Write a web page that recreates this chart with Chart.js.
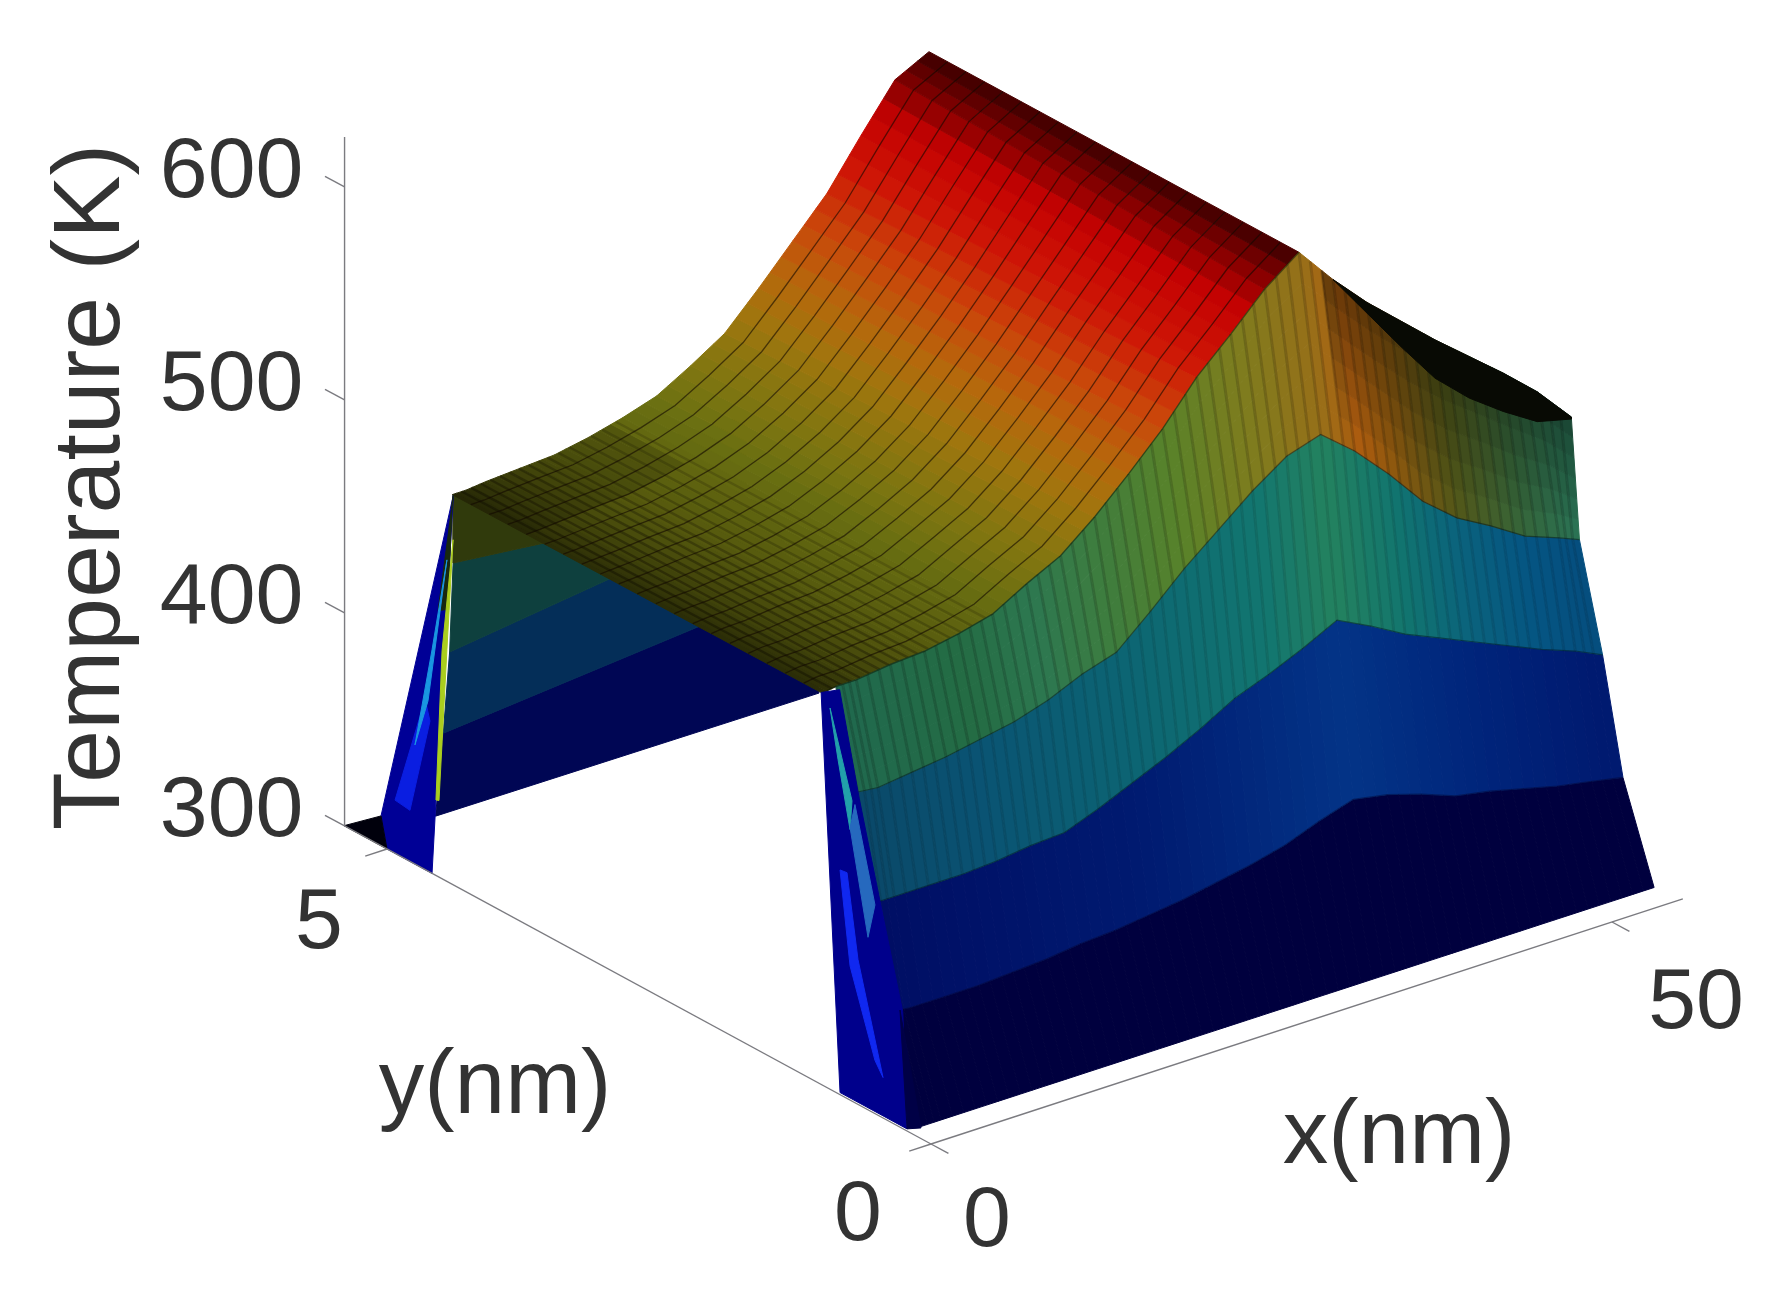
<!DOCTYPE html>
<html><head><meta charset="utf-8">
<style>html,body{margin:0;padding:0;background:#fff}canvas{display:block}</style>
<script src="https://cdn.jsdelivr.net/npm/chart.js@4/dist/chart.umd.js"></script>
</head><body><canvas id="c" width="1784" height="1299"></canvas>
<script>
// ---------- data ----------
const xGrid   = [1,2.5,5,7.5,10,12.5,15,17.5,20,22.5,25,27.5,30,32.5,35,37.5,40,42.5,45,47.5,50,52.5,55];
const baseT   = 300;
const yBase = 0.22, yNavy = 0.5, yBlue = 0.65, yTeal = 0.8, yEdge = 1, yFar = 4.4;
const xEndBase = 54.85, xEndNavy = 54.8, xEndBlue = 54.5, xEndTeal = 54, xEndEdge = 55;
const navyT = [346,345,345,345,346,347,349,350,352,354,357,360,364,370,375,372,367,361,358,354,350,347,344];
const blueT = [393,393,393,393,394,396,397,403,410,417,425,434,440,447,455,447,438,431,424,417,410,404,398];
const tealT = [441,440,442,444,447,450,455,462,467,481,496,509,522,533,538,525,509,491,478,469,459,453,449];
const edgeT = [485,485,487,488,491,495,504,512,525,540,556,575,590,606,618,600,584,570,556,543,530,516,499];
const rimX  = [37.5,40,42.5,45,47.5,50,52.5,55];
const rimT  = [600,579,558,538,523.5,512,502,498];
const plateX     = [0,1,2.5,5,7.5,10,12.5,15,17.5,20,22.5,25,27.5,30,32.5,35];
const plateNearT = [484,485,485,487,488,491,495,504,512,525,540,556,575,590,606,618];
const plateFarT  = [483,483,484,485,486,489,493,498,507,517,533,550,567,589,610,618];
// inner side of the far wall: [x, y, T]
const farBase = [[5,5.18,300],[33,5.16,300]];
const far344  = [[4.45,5.04,344],[33,5.38,344]];
const far394  = [[2.6,4.75,394],[30,5.2,394]];
const far445  = [[1.1,4.53,445],[20,4.2,445]];
const farTop  = [[0,4.39,483],[20,4.2,484]];
// steep end pieces at x = 0: [y, T]
const fanFront  = [[1.01,484],[0.836,301],[0.22,301],[0.26,355],[0.46,399],[0.66,444],[0.84,490]];
const fanFoot   = [[0.285,355],[0.22,301],[0.092,305]];
const fanCyan   = [[0.928,479],[0.726,441],[0.744,427],[0.855,457]];
const fanPale   = [[0.744,428],[0.579,381],[0.515,398],[0.699,440]];
const fanBright = [[0.772,406],[0.671,368],[0.441,319],[0.515,325],[0.744,363],[0.836,405.5]];
const fanFar    = [[4.39,483],[5.055,314],[5,300],[4.586,300],[4.54,345]];
const fanFarDark= [[5.395,300],[5.055,314],[5,300]];
const farSliver = [[4.39,483],[4.53,425],[4.44,428],[4.4,480]];
const farCyan   = [[4.449,451],[4.623,380],[4.743,356],[4.586,405]];
const farBright = [[4.926,325],[4.65,380],[4.605,371],[4.789,324]];
const farYellow = [[4.393,462],[4.449,409],[4.522,336],[4.55,335.5],[4.494,407]];
// axes
const zTicks = [300,400,500,600];
const zMax = 623.5, yAxisEnd = 5.39, xAxisEnd = 55.2;
const xTicks = [0,50], yTicks = [0,5];

// ---------- view ----------
const P = (x,y,T)=>({x:931+13.62*x-108.8*y, y:1144-4.44*x-59*y-2.13*(T-300)});
const mix=(a,b,t)=>Array.isArray(a)?a.map((v,i)=>v+(b[i]-v)*t):a+(b-a)*t;
const ramp=(stops,v)=>{ if(v<=stops[0][0])return stops[0][1];
  for(let i=1;i<stops.length;i++) if(v<=stops[i][0]) return mix(stops[i-1][1],stops[i][1],(v-stops[i-1][0])/(stops[i][0]-stops[i-1][0]));
  return stops[stops.length-1][1]; };
const css=(c,k=1)=>`rgb(${Math.round(c[0]*k)},${Math.round(c[1]*k)},${Math.round(c[2]*k)})`;
const plateColors=[[484,[100,104,16]],[497,[108,114,18]],[510,[132,118,16]],[525,[160,118,14]],[540,[182,104,12]],[558,[202,70,10]],[578,[206,22,6]],[598,[196,2,2]],[610,[130,0,0]],[618,[58,0,0]]];
const topBandColors=[[1,[32,105,78]],[10,[36,108,68]],[15,[45,120,80]],[20,[62,125,62]],[25,[88,130,42]],[30,[125,125,30]],[35,[150,112,25]],[38,[178,95,15]],[41,[140,90,15]],[45,[85,90,25]],[50,[55,105,60]],[55,[40,122,95]]];
const tealBandColors=[[1,[10,72,105]],[10,[10,84,115]],[20,[12,100,115]],[30,[18,118,112]],[35,[36,130,95]],[40,[18,118,110]],[45,[10,98,125]],[50,[5,85,130]],[55,[5,75,125]]];
const blueBandColors=[[1,[0,14,100]],[20,[0,26,112]],[35,[3,52,135]],[45,[0,36,122]],[55,[0,24,110]]];
const lowShade=[[0,0.42],[1,0.5],[2.5,0.62],[5,0.74],[7.5,0.84],[12,0.94],[16,1]];

const ds=[];
function poly(pts,color){ const d=pts.concat([pts[0]]);
  ds.push({data:d,backgroundColor:color,borderColor:color,borderWidth:1,fill:'shape',pointRadius:0,tension:0}); }
function stroke(pts,color,w){ ds.push({data:pts,borderColor:color,backgroundColor:color,borderWidth:w,fill:false,pointRadius:0,tension:0}); }

// far wall, seen under the top surface
const far=(a,b,c)=>poly([...a.map(p=>P(...p)),...b.slice().reverse().map(p=>P(...p))],c);
far(farBase,far344,'rgb(0,6,84)');
far(far344,far394,'rgb(4,46,88)');
far(far394,far445,'rgb(14,64,62)');
far(far445,farTop,'rgb(48,58,12)');

// top surface
const sub=3, rowsY=5;
for(let i=0;i<plateX.length-1;i++) for(let s=0;s<sub;s++) for(let r=0;r<rowsY;r++){
  const a=s/sub,b=(s+1)/sub,f0=r/rowsY,f1=(r+1)/rowsY;
  const X=t=>plateX[i]+(plateX[i+1]-plateX[i])*t;
  const N=t=>plateNearT[i]+(plateNearT[i+1]-plateNearT[i])*t;
  const F=t=>plateFarT[i]+(plateFarT[i+1]-plateFarT[i])*t;
  const Q=(t,f)=>P(X(t),yEdge+(yFar-yEdge)*f,N(t)+(F(t)-N(t))*f);
  const tm=(a+b)/2,fm=(f0+f1)/2,xm=X(tm);
  const edge=(fm>0.8&&xm<12)?0.85:1;
  poly([Q(a,f0),Q(b,f0),Q(b,f1),Q(a,f1)],css(ramp(plateColors,N(tm)+(F(tm)-N(tm))*fm),ramp(lowShade,xm)*edge));
}
// hatch near the cold end of the surface
[0.7,1.4,2.1,2.8,3.5,4.2,4.9,5.6,6.3,7,7.8,8.6,9.4,10.2,11,12].forEach((x,n)=>{
  let i=0; while(plateX[i+1]<x)i++;
  const t=(x-plateX[i])/(plateX[i+1]-plateX[i]);
  const a=plateNearT[i]+(plateNearT[i+1]-plateNearT[i])*t, f=plateFarT[i]+(plateFarT[i+1]-plateFarT[i])*t;
  stroke([P(x,yEdge,a),P(x,yFar,f)],`rgba(15,12,0,${(0.42-n*0.016).toFixed(3)})`,2.4);
});
// mesh lines along x
const meshCount=20;
for(let k=1;k<meshCount;k++){ const f=k/meshCount;
  stroke(plateX.map((x,i)=>P(x,yEdge+(yFar-yEdge)*f,plateNearT[i]+(plateFarT[i]-plateNearT[i])*f)),'rgba(18,8,0,0.6)',1.3);
}

// front wall: each row gives [x, y, T] at a column
const last=xGrid.length-1;
const rowAt=(y,T,xEnd)=>i=>[i===last?xEnd:xGrid[i],y,Array.isArray(T)?T[i]:T];
const rBase=rowAt(yBase,baseT,xEndBase), rNavy=rowAt(yNavy,navyT,xEndNavy), rBlue=rowAt(yBlue,blueT,xEndBlue), rTeal=rowAt(yTeal,tealT,xEndTeal), rEdge=rowAt(yEdge,edgeT,xEndEdge);
const at=(row,i,t)=>mix(row(i),row(i+1),t);
const cell=(lo,hi,i,t0,t1,f0,f1)=>[mix(at(lo,i,t0),at(hi,i,t0),f0),mix(at(lo,i,t1),at(hi,i,t1),f0),mix(at(lo,i,t1),at(hi,i,t1),f1),mix(at(lo,i,t0),at(hi,i,t0),f1)].map(p=>P(...p));
const colSub=3, topSub=6;
for(let i=0;i<last;i++) for(let c=0;c<colSub;c++){
  const t0=c/colSub,t1=(c+1)/colSub,xm=mix(at(rTeal,i,t0)[0],at(rTeal,i,t1)[0],0.5);
  poly(cell(rBase,rNavy,i,t0,t1,0,1),'rgb(0,0,62)');
  poly(cell(rNavy,rBlue,i,t0,t1,0,1),css(ramp(blueBandColors,xm)));
  poly(cell(rBlue,rTeal,i,t0,t1,0,1),css(ramp(tealBandColors,xm)));
  for(let s=0;s<topSub;s++){
    const dark=xm>37?1-0.42*(s+0.5)/topSub:1;
    poly(cell(rTeal,rEdge,i,t0,t1,s/topSub,(s+1)/topSub),css(ramp(topBandColors,xm),dark));
  }
}
// fine stripes in the upper bands of the wall
for(let i=0;i<last;i++) for(let c=0;c<colSub;c++){ const t=c/colSub;
  stroke([P(...at(rTeal,i,t)),P(...at(rEdge,i,t))],'rgba(0,0,0,0.16)',3);
  stroke([P(...at(rBlue,i,t)),P(...at(rTeal,i,t))],'rgba(0,0,0,0.10)',3);
}
// thin contour lines between bands
[[rNavy,'rgba(0,0,40,0.4)'],[rBlue,'rgba(0,20,30,0.5)'],[rTeal,'rgba(0,20,30,0.5)']].forEach(([r,c])=>stroke(xGrid.map((x,i)=>P(...r(i))),c,1.2));
// dark hollow under the far shoulder
const edgeFrom=xGrid.indexOf(rimX[0]);
poly([...rimX.map((x,i)=>P(x,yEdge,edgeT[edgeFrom+i])),...rimX.map((x,i)=>P(x,yEdge,rimT[i])).reverse()],'rgb(8,10,4)');
stroke(plateX.map((x,i)=>P(x,yEdge,plateNearT[i])),'rgba(15,25,5,0.55)',1.4);

// steep ends at x = 0
const F0=a=>a.map(([y,T])=>P(0,y,T));
poly(F0(fanFront),'rgb(0,0,140)');
poly(F0(fanFoot),'rgb(0,0,70)');
poly(F0(fanCyan),'rgb(34,160,170)');
poly(F0(fanPale),'rgb(38,105,190)');
poly(F0(fanBright),'rgb(16,40,240)');
poly(F0(fanFar),'rgb(0,0,150)');
poly(F0(fanFarDark),'rgb(0,0,12)');
poly(F0(farSliver),'rgb(24,40,16)');
poly(F0(farBright),'rgb(10,30,225)');
poly(F0(farCyan),'rgb(25,150,225)');
poly(F0(farYellow),'rgb(170,205,30)');

// axes
const axisColor='#7b7b80';
stroke([P(0,yAxisEnd,baseT),P(0,yAxisEnd,zMax)],axisColor,1.4);
stroke([P(0,0,baseT),P(0,yAxisEnd,baseT)],axisColor,1.4);
stroke([P(0,0,baseT),P(xAxisEnd,0,baseT)],axisColor,1.4);
zTicks.forEach(t=>stroke([P(0,yAxisEnd,t),P(0,yAxisEnd+0.18,t)],axisColor,1.4));
xTicks.forEach(t=>stroke([P(t,0,baseT),P(t,-0.16,baseT)],axisColor,1.4));
yTicks.forEach(t=>stroke([P(0,t,baseT),P(-1.6,t,baseT)],axisColor,1.4));

const labelPlugin={id:'labels',afterDraw(ch){
  const g=ch.ctx, sx=ch.scales.x, sy=ch.scales.y;
  const put=(s,px,py)=>g.fillText(s,sx.getPixelForValue(px),sy.getPixelForValue(py));
  g.save(); g.fillStyle='#333'; g.textAlign='center'; g.textBaseline='middle';
  g.font='86px "Liberation Sans"';
  zTicks.forEach(t=>{const p=P(0,yAxisEnd,t); put(String(t),p.x-113,p.y-14);});
  {const p=P(0,yTicks[1],baseT); put(String(yTicks[1]),p.x-68,p.y+75);}
  {const p=P(0,yTicks[0],baseT); put(String(yTicks[0]),p.x-73,p.y+72);}
  {const p=P(xTicks[0],0,baseT); put(String(xTicks[0]),p.x+56,p.y+78);}
  {const p=P(xTicks[1],0,baseT); put(String(xTicks[1]),p.x+84,p.y+82);}
  g.textBaseline='alphabetic'; g.font='91px "Liberation Sans"';
  put('y(nm)',495,1113); put('x(nm)',1399,1163);
  g.font='95px "Liberation Sans"';
  g.translate(sx.getPixelForValue(119),sy.getPixelForValue(487)); g.rotate(-Math.PI/2);
  g.fillText('Temperature (K)',0,0);
  g.restore();
}};

new Chart(document.getElementById('c'),{
  type:'line',
  data:{datasets:ds.slice().reverse()},
  options:{responsive:false,animation:false,devicePixelRatio:1,events:[],
    layout:{padding:0},
    plugins:{legend:{display:false},tooltip:{enabled:false},title:{display:false}},
    scales:{x:{type:'linear',min:0,max:1784,display:false},y:{type:'linear',min:0,max:1299,reverse:true,display:false}}},
  plugins:[labelPlugin]
});
</script></body></html>
